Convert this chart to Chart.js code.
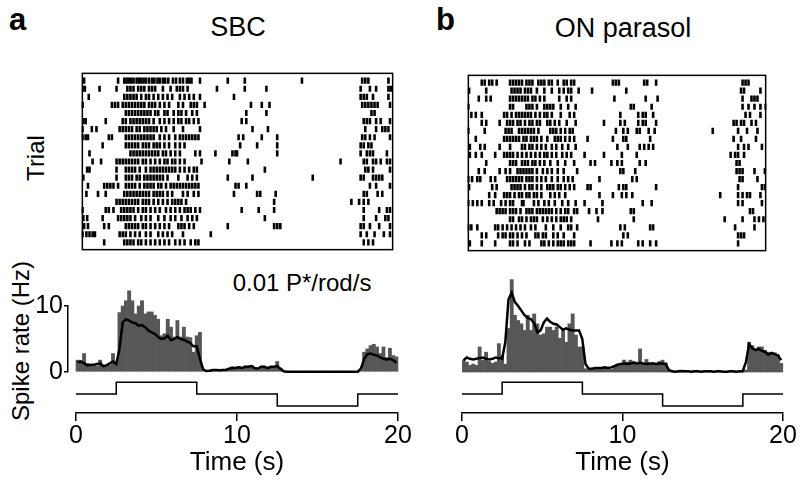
<!DOCTYPE html>
<html>
<head>
<meta charset="utf-8">
<script src="https://cdn.jsdelivr.net/npm/chart.js@4.4.1/dist/chart.umd.min.js"></script>
<style>
  body { margin: 0; background: #fff; }
  #fig { position: relative; width: 800px; height: 490px; overflow: hidden;
         font-family: "Liberation Sans", Arial, Helvetica, sans-serif; color: #000; }
  #fig canvas { position: absolute; }
  .t { position: absolute; white-space: nowrap; line-height: 1; font-size: 24px;
       transform: translate(-50%, -50%); }
  .big { font-size: 27px; }
  .rot { transform: translate(-50%, -50%) rotate(-90deg); }
  .lab { position: absolute; font-weight: bold; font-size: 31px; line-height: 1; }
</style>
</head>
<body>
<div id="fig">
  <div class="lab" style="left:9px;top:4px">a</div>
  <div class="lab" style="left:436px;top:4px">b</div>
  <div class="t big" style="left:238px;top:27px">SBC</div>
  <div class="t big" style="left:623px;top:28px">ON parasol</div>
  <div class="t rot" style="left:36px;top:158px">Trial</div>
  <div class="t rot" style="left:21px;top:341px">Spike rate (Hz)</div>
  <div class="t" style="left:302px;top:283px">0.01 P*/rod/s</div>
</div>
<script>
// ---- data ----
// spike times (s), one array per trial, top row first
const trialsSBC = [
  [0.1, 2.3, 2.7, 2.85, 3.0, 3.15, 3.3, 3.5, 3.65, 3.8, 3.95, 4.1, 4.3, 4.5, 4.65, 4.85, 5.0, 5.2, 5.35, 5.55, 5.85, 6.05, 6.3, 6.5, 6.75, 6.9, 7.05, 7.6, 9.4, 10.5, 14.2, 18.1, 18.3, 18.5, 19.8],
  [0.05, 0.15, 1.1, 2.2, 2.9, 3.1, 3.3, 3.6, 3.8, 4.0, 4.3, 4.5, 4.7, 5.2, 5.7, 6.1, 6.3, 6.5, 6.8, 8.7, 10.5, 11.9, 18.0, 18.6, 19.0, 19.8, 19.95],
  [0.4, 2.7, 2.9, 3.1, 3.3, 3.5, 3.8, 4.1, 4.3, 4.6, 4.9, 5.2, 5.5, 5.8, 6.3, 6.6, 6.9, 7.2, 7.6, 9.8, 18.0, 18.2, 18.4, 18.8, 19.8],
  [0.0, 1.9, 2.1, 2.3, 2.6, 2.8, 3.0, 3.2, 3.4, 3.6, 3.8, 4.0, 4.3, 4.5, 4.7, 5.0, 5.3, 5.6, 6.2, 6.5, 7.0, 7.2, 7.4, 7.9, 10.9, 11.6, 12.1, 18.1, 18.3, 18.5, 18.7, 18.9, 19.1, 19.9],
  [2.8, 3.0, 3.2, 3.4, 3.6, 3.8, 4.0, 4.2, 4.4, 4.7, 4.9, 5.3, 5.5, 5.9, 6.2, 6.4, 6.7, 7.1, 7.4, 10.6, 11.9, 18.7, 18.9],
  [0.05, 0.2, 1.5, 2.6, 2.8, 3.1, 3.3, 3.5, 3.7, 3.9, 4.1, 4.3, 4.6, 5.0, 5.3, 5.6, 5.9, 6.2, 6.4, 6.7, 6.9, 7.2, 7.5, 10.3, 10.6, 18.2, 18.4, 18.6, 19.0, 19.3, 19.9],
  [0.0, 0.6, 0.9, 2.4, 2.6, 2.8, 3.0, 3.2, 3.5, 3.7, 4.0, 4.2, 4.4, 4.6, 4.8, 5.1, 5.4, 5.9, 6.5, 7.6, 11.0, 12.0, 18.3, 19.0, 19.4, 19.6, 19.8],
  [0.0, 0.2, 0.35, 1.7, 1.9, 2.8, 3.0, 3.2, 3.4, 3.6, 3.8, 4.0, 4.2, 4.4, 4.6, 5.0, 5.3, 5.6, 6.0, 6.3, 6.5, 6.7, 6.9, 7.1, 7.3, 7.5, 10.1, 10.4, 11.6, 12.6, 18.1, 18.3, 18.6, 18.9, 19.9],
  [1.3, 2.8, 3.0, 3.2, 3.4, 3.6, 3.9, 4.1, 4.3, 4.6, 4.8, 5.0, 5.3, 5.6, 6.0, 6.3, 6.6, 10.2, 11.3, 12.6, 18.0, 18.2, 18.5, 18.7],
  [0.45, 3.1, 3.3, 3.5, 3.7, 3.9, 4.1, 4.3, 4.5, 4.7, 4.9, 5.2, 5.4, 5.7, 6.0, 6.3, 7.3, 7.6, 8.6, 9.7, 9.9, 10.0, 12.6, 18.0, 18.4, 18.6, 18.8, 19.7],
  [0.65, 1.2, 2.2, 2.4, 2.6, 2.8, 3.0, 3.2, 3.4, 3.6, 3.9, 4.1, 4.4, 4.7, 5.0, 5.3, 5.5, 5.8, 6.0, 6.3, 6.6, 7.7, 9.5, 10.7, 16.7, 18.2, 18.4, 18.8, 19.0, 19.3, 19.7, 19.9],
  [0.3, 0.45, 2.2, 2.8, 3.0, 3.2, 3.4, 3.7, 4.1, 4.4, 4.6, 4.8, 5.0, 5.2, 5.4, 5.6, 5.8, 6.0, 6.3, 6.6, 6.9, 7.2, 7.4, 11.8, 18.3, 18.5, 18.8, 19.9],
  [0.05, 2.2, 2.8, 3.0, 3.2, 3.5, 3.7, 4.0, 4.2, 4.4, 4.6, 4.8, 5.0, 5.2, 5.5, 6.2, 6.8, 7.1, 7.4, 9.4, 11.0, 14.9, 18.0, 18.2, 18.8, 19.0, 19.2, 19.4],
  [0.35, 1.4, 1.6, 1.8, 2.0, 2.3, 2.8, 3.0, 3.2, 3.4, 3.7, 4.0, 4.2, 4.4, 4.6, 4.9, 5.1, 5.4, 5.7, 5.9, 6.1, 6.3, 6.5, 6.7, 6.9, 7.1, 7.3, 7.5, 9.9, 10.1, 10.6, 18.6, 19.0, 19.9],
  [0.25, 1.0, 1.5, 2.7, 2.9, 3.1, 3.3, 3.5, 3.7, 3.9, 4.1, 4.3, 4.6, 4.8, 5.0, 5.2, 5.5, 5.8, 6.5, 6.8, 7.2, 7.5, 9.8, 11.3, 11.5, 12.5, 18.2, 18.4, 19.1, 19.4],
  [2.2, 2.4, 2.6, 2.8, 3.0, 3.2, 3.4, 3.6, 3.9, 4.1, 4.3, 4.6, 4.9, 5.2, 5.5, 5.8, 6.0, 6.2, 6.4, 6.7, 12.4, 17.4, 17.9, 18.2, 18.5],
  [0.0, 1.5, 1.7, 2.0, 2.5, 2.7, 2.9, 3.1, 3.3, 3.6, 3.9, 4.1, 4.4, 4.7, 5.0, 5.4, 5.7, 6.0, 6.3, 6.6, 6.8, 7.0, 7.3, 7.6, 10.3, 11.4, 12.4, 18.2, 19.2, 19.7, 19.9],
  [0.05, 0.3, 1.3, 2.3, 2.5, 2.7, 2.9, 3.1, 3.4, 3.8, 4.1, 4.4, 4.9, 5.3, 5.7, 6.0, 6.4, 6.8, 7.1, 7.4, 11.8, 18.2, 19.0, 19.6, 19.8],
  [0.1, 0.35, 1.4, 1.7, 2.8, 3.0, 3.2, 3.4, 3.6, 3.9, 4.1, 4.4, 4.7, 5.0, 5.3, 5.6, 6.2, 6.4, 6.6, 6.9, 7.2, 9.4, 12.4, 12.6, 12.8, 18.0, 18.2, 18.6, 19.2, 19.9],
  [0.0, 0.25, 0.45, 0.65, 0.8, 2.4, 2.6, 2.8, 3.1, 3.4, 3.7, 4.1, 4.4, 4.9, 5.2, 5.5, 5.8, 6.5, 8.3, 18.0, 18.4, 18.9, 19.5, 19.9],
  [1.4, 2.7, 2.9, 3.1, 3.3, 3.6, 3.8, 4.1, 4.4, 4.7, 5.0, 5.3, 5.6, 6.0, 6.3, 6.6, 7.0, 7.3, 7.5, 18.2, 18.5, 18.8]
];

const trialsParasol = [
  [0.9, 1.1, 1.4, 1.6, 1.9, 2.8, 3.0, 3.2, 3.4, 3.6, 3.9, 4.1, 4.3, 4.7, 4.9, 5.1, 5.4, 5.6, 6.0, 6.4, 6.6, 6.9, 7.1, 9.7, 9.9, 10.1, 11.8, 12.0, 12.6, 18.4, 18.6, 18.8],
  [0.05, 1.2, 2.9, 3.1, 3.3, 3.5, 3.8, 4.0, 4.2, 4.6, 5.1, 5.6, 6.1, 6.4, 6.7, 6.9, 7.4, 8.3, 10.6, 18.3, 18.5, 19.6],
  [0.7, 1.2, 1.5, 2.8, 3.0, 3.2, 3.4, 3.6, 3.8, 4.0, 4.3, 4.5, 4.8, 5.1, 6.1, 6.6, 6.9, 9.8, 11.9, 12.7, 18.4, 19.0, 19.2, 19.4],
  [0.0, 2.8, 3.0, 3.9, 4.1, 4.3, 4.6, 5.1, 5.3, 5.5, 5.7, 6.2, 6.7, 7.2, 10.9, 11.1, 12.3, 18.4, 18.8, 19.2, 19.6, 19.95],
  [0.2, 0.5, 0.9, 2.4, 2.6, 2.9, 3.2, 3.4, 3.6, 3.8, 4.0, 4.2, 4.5, 4.8, 5.1, 5.3, 5.6, 6.2, 6.8, 7.1, 10.2, 11.4, 11.7, 11.9, 12.4, 18.6, 18.9, 19.6],
  [0.9, 1.2, 2.1, 2.6, 2.8, 3.0, 3.3, 3.5, 3.8, 4.1, 4.3, 4.6, 4.8, 5.3, 5.5, 5.8, 6.1, 6.6, 7.2, 9.1, 10.2, 10.5, 11.4, 11.7, 11.9, 12.6, 17.8, 18.0, 18.3, 18.5, 19.0, 19.3],
  [0.0, 1.1, 2.5, 2.7, 2.9, 3.4, 3.6, 3.8, 4.0, 4.2, 4.4, 4.7, 5.5, 5.7, 5.9, 6.2, 6.5, 6.8, 7.0, 9.9, 10.4, 10.7, 11.3, 11.5, 12.1, 12.5, 16.4, 18.1, 18.7, 19.4],
  [0.5, 2.4, 2.6, 2.8, 3.0, 3.2, 3.4, 3.7, 3.9, 4.2, 4.4, 4.6, 4.9, 5.3, 5.8, 6.0, 6.2, 6.5, 6.8, 7.1, 8.0, 9.7, 10.4, 10.6, 12.2, 17.8, 18.3, 19.3],
  [0.1, 0.8, 1.1, 2.1, 2.8, 3.6, 3.8, 4.1, 4.3, 4.6, 4.9, 5.2, 5.6, 5.9, 6.3, 6.7, 7.2, 10.0, 10.7, 11.5, 11.8, 12.1, 12.4, 18.1, 18.5, 18.8, 19.7],
  [0.1, 0.5, 0.9, 1.8, 2.4, 2.6, 2.8, 3.0, 3.3, 3.6, 3.9, 4.2, 4.5, 4.8, 5.1, 5.3, 5.6, 5.9, 6.3, 6.6, 6.9, 7.8, 9.1, 10.3, 11.3, 17.6, 17.9, 18.1, 18.5],
  [1.2, 2.8, 3.0, 3.2, 3.6, 3.8, 4.0, 4.3, 4.5, 4.8, 5.1, 5.5, 6.0, 6.5, 7.1, 8.2, 8.5, 9.6, 10.0, 10.3, 11.5, 11.9, 18.0, 18.2],
  [0.7, 1.1, 2.1, 2.5, 2.8, 3.3, 3.5, 3.7, 3.9, 4.1, 4.3, 4.6, 5.0, 5.3, 5.6, 6.0, 6.4, 7.3, 10.2, 10.4, 11.2, 18.0, 18.2, 18.4, 19.2, 19.9],
  [0.0, 0.25, 0.6, 0.8, 1.5, 1.8, 2.6, 2.8, 3.0, 3.2, 3.4, 3.6, 3.9, 4.1, 4.3, 4.6, 4.9, 5.2, 5.6, 6.0, 6.4, 6.7, 7.0, 8.8, 11.0, 11.3, 18.2, 18.4, 19.4],
  [0.05, 1.6, 1.9, 2.9, 3.1, 3.3, 3.5, 3.8, 4.1, 4.3, 4.6, 4.9, 5.3, 5.5, 5.7, 6.0, 6.2, 6.5, 6.8, 7.1, 8.0, 8.2, 10.1, 10.4, 10.6, 12.6, 18.1, 19.7, 19.9],
  [1.4, 1.8, 2.4, 2.6, 2.8, 3.1, 3.4, 3.6, 3.9, 4.1, 4.4, 4.6, 4.9, 5.5, 5.8, 6.1, 6.5, 8.8, 9.7, 10.3, 10.6, 11.0, 16.9, 18.1, 18.4, 18.7, 18.9, 19.6],
  [0.0, 0.3, 0.6, 0.9, 1.4, 1.7, 2.2, 2.5, 2.8, 3.0, 3.6, 3.7, 4.4, 4.7, 5.1, 5.4, 5.8, 6.3, 6.7, 7.2, 7.8, 9.0, 11.7, 12.3, 18.1, 18.4, 19.7],
  [1.9, 2.1, 2.3, 2.5, 2.8, 3.0, 3.2, 3.5, 3.9, 4.1, 4.3, 4.6, 4.8, 5.0, 5.2, 5.4, 5.6, 5.9, 6.2, 6.5, 6.7, 7.1, 7.3, 8.1, 8.6, 9.0, 10.9, 11.1, 18.9, 19.1],
  [2.8, 3.0, 3.4, 3.6, 3.9, 4.2, 4.4, 4.6, 5.0, 5.3, 5.6, 5.9, 6.2, 6.4, 6.6, 6.9, 8.7, 11.1, 17.2, 18.4, 19.2, 19.5, 19.8],
  [0.0, 0.2, 0.6, 1.8, 2.0, 2.3, 2.6, 2.9, 3.2, 3.5, 3.8, 4.2, 4.5, 5.2, 5.7, 6.2, 6.7, 6.9, 7.3, 10.2, 10.5, 12.2, 12.4, 17.9, 19.2],
  [0.9, 1.2, 2.0, 2.3, 2.5, 2.8, 3.0, 3.3, 3.6, 3.9, 4.5, 4.7, 5.0, 5.2, 5.7, 6.0, 6.4, 7.1, 10.4, 10.7, 18.1, 18.3, 18.5],
  [0.1, 0.9, 1.8, 2.8, 3.0, 3.3, 3.8, 4.1, 4.9, 5.1, 5.4, 5.7, 6.0, 6.2, 6.4, 6.7, 6.9, 7.1, 8.2, 9.6, 10.0, 10.3, 11.4, 11.7, 12.2, 12.6, 18.1]
];

// PSTH, 0.2 s bins from 0 to 20 s (Hz)
const binWidth = 0.2;
const rateSBC = [
  1.8, 1.6, 2.8, 1.3, 1.0, 1.1, 0.9, 1.8, 1.0, 0.8, 1.0, 2.8, 1.4,
  9.0, 10.0, 10.8, 12.3, 10.8, 8.8, 10.0, 10.8, 8.8, 9.1, 9.1, 8.6, 8.0, 5.5, 5.8, 8.0, 6.8, 5.3, 7.8, 5.3, 6.8, 5.3, 5.2, 3.0, 5.5, 6.0, 0.3,
  0.2, 0.3, 0.3, 0.3, 0.2, 0.3, 0.3, 0.5, 0.8, 0.6, 0.8, 0.5, 0.9, 0.6, 1.0, 0.7, 0.3, 0.8, 0.9, 0.6, 0.8, 0.7, 1.6, 0.6, 0.1,
  0, 0, 0.05, 0, 0, 0, 0.05, 0, 0, 0, 0, 0.05, 0, 0, 0, 0, 0.05, 0, 0, 0, 0, 0, 0, 0.2,
  3.0, 3.5, 4.0, 4.2, 3.8, 2.8, 3.8, 2.2, 3.6, 2.5, 2.3
];
const smoothSBC = [
  1.5, 1.6, 1.3, 1.0, 1.1, 1.1, 1.2, 1.3, 0.9, 1.0, 1.3, 1.6, 1.2,
  3.5, 7.5, 8.0, 7.8, 7.5, 7.4, 7.0, 7.1, 6.8, 6.3, 6.0, 5.8, 5.3, 5.0, 5.1, 5.5, 4.8, 5.0, 5.3, 5.0, 4.9, 4.6,
  4.4, 3.9, 3.9, 2.0, 0.4, 0.15, 0.2, 0.3, 0.3, 0.25, 0.3, 0.3, 0.5, 0.6, 0.6, 0.7, 0.6, 0.8, 0.8, 0.9,
  0.6, 0.5, 0.8, 0.8, 0.6, 0.8, 0.8, 0.9, 0.5, 0.1,
  0.05, 0.05, 0.05, 0.05, 0.05, 0.05, 0.05, 0.05, 0.05, 0.05, 0.05, 0.05, 0.05, 0.05, 0.05, 0.05, 0.05, 0.05, 0.05, 0.05, 0.05, 0.05, 0.05,
  0.5, 2.0, 2.7, 2.8, 2.6, 2.5, 2.2, 2.0, 1.9, 2.0, 1.8, 1.4
];
const rateParasol = [
  1.8, 1.5, 1.0, 1.2, 1.0, 3.8, 1.8, 3.0, 1.6, 1.3, 1.5, 4.3, 2.5, 1.2,
  6.6, 14.0, 8.6, 7.8, 7.3, 6.3, 8.6, 6.3, 8.8, 7.3, 5.6, 5.8, 6.8, 6.8, 6.3, 6.8, 5.1, 6.3, 4.5, 7.3, 8.8, 5.6, 3.8, 3.8, 0.5, 0.3,
  0.4, 0.5, 0.6, 0.5, 0.6, 0.7, 0.4, 0.8, 1.2, 1.0, 1.8, 1.5, 1.8, 1.6, 1.4, 3.5, 1.3, 1.9, 1.2, 1.4, 1.2, 1.6, 1.8, 1.4, 0.3,
  0, 0.05, 0, 0, 0.05, 0, 0, 0, 0.05, 0, 0, 0, 0, 0.05, 0, 0, 0, 0, 0.05, 0, 0, 0, 0, 0.3,
  4.5, 4.0, 3.5, 3.8, 3.8, 3.3, 3.0, 2.8, 2.9, 2.6, 1.3
];
const smoothParasol = [
  1.8, 2.2, 2.0, 1.9, 2.0, 2.1, 2.2, 2.0, 1.9, 2.0, 2.2, 2.1, 2.0,
  4.5, 11.0, 12.0, 10.6, 10.0, 9.3, 8.6, 8.2, 8.0, 7.4, 6.0, 6.3, 7.5, 8.1, 7.6, 7.3, 7.2, 6.8, 6.4, 6.6, 6.4, 6.3,
  6.3, 6.3, 5.0, 1.2, 0.5, 0.5, 0.6, 0.6, 0.6, 0.7, 0.6, 0.7, 0.9, 1.1, 1.2, 1.3, 1.2, 1.3, 1.4, 1.3,
  1.4, 1.3, 1.2, 1.3, 1.3, 1.2, 1.3, 1.3, 1.2, 0.3,
  0.1, 0.05, 0.1, 0.15, 0.1, 0.1, 0.05, 0.1, 0.1, 0.05, 0.1, 0.1, 0.1, 0.05, 0.1, 0.1, 0.05, 0.05, 0.1, 0.1, 0.05, 0.1, 0.1,
  1.5, 4.2, 3.6, 3.3, 3.5, 3.2, 3.0, 2.6, 2.9, 2.7, 2.5, 1.8
];

// light stimulus: level changes (relative units)
const stimTimes = [0, 2.5, 7.5, 12.5, 17.5, 20];
const stimLevels = [0, 1, 0, -1, 0, 0];
const timeTicks = [0, 10, 20];
const rateTicks = [0, 10];

// ---- drawing ----
const FONT = '"Liberation Sans", Arial, Helvetica, sans-serif';
Chart.defaults.font.family = FONT;
Chart.defaults.color = '#000';
const fig = document.getElementById('fig');

function addCanvas(left, top, width, height) {
  const c = document.createElement('canvas');
  c.width = width;
  c.height = height;
  c.style.left = left + 'px';
  c.style.top = top + 'px';
  c.style.width = width + 'px';
  c.style.height = height + 'px';
  fig.appendChild(c);
  return c;
}

const baseOptions = {
  responsive: false,
  animation: false,
  events: [],
  plugins: { legend: { display: false }, tooltip: { enabled: false } }
};

// box around raster
const frame = {
  id: 'frame',
  afterDraw(chart) {
    const a = chart.chartArea, ctx = chart.ctx;
    ctx.save();
    ctx.strokeStyle = '#000';
    ctx.lineWidth = 1.5;
    ctx.strokeRect(a.left + 0.75, a.top + 0.75, a.right - a.left - 1.5, a.bottom - a.top - 1.5);
    ctx.restore();
  }
};

function raster(canvas, trials, xmin, xmax) {
  const pts = [];
  trials.forEach((spikes, i) => spikes.forEach(t => pts.push({ x: t, y: i + 1 })));
  return new Chart(canvas, {
    type: 'scatter',
    data: {
      datasets: [{
        data: pts,
        pointStyle: 'line',
        pointRotation: 90,
        rotation: 90,
        pointRadius: 3.1,
        borderWidth: 2.6,
        pointBorderWidth: 2.6,
        pointBorderColor: '#000',
        borderColor: '#000',
        backgroundColor: '#000'
      }]
    },
    options: {
      ...baseOptions,
      layout: { padding: 0 },
      elements: { point: { borderWidth: 2.6, radius: 3.1, rotation: 90, pointStyle: 'line' } },
      scales: {
        x: { type: 'linear', display: false, min: xmin, max: xmax },
        y: { display: false, min: 0, max: 22, reverse: true }
      }
    },
    plugins: [frame]
  });
}

function psth(canvas, rates, smooth, xmin, xmax, padding, withAxis) {
  const center = i => binWidth * (i + 0.5);
  const yScale = {
    display: withAxis,
    min: 0,
    max: 10,
    afterBuildTicks: s => { s.ticks = rateTicks.map(v => ({ value: v })); },
    ticks: { color: '#000', font: { size: 25 }, padding: 1 },
    grid: { drawOnChartArea: false, drawTicks: true, tickLength: 4, color: '#000', lineWidth: 1.5 },
    border: { display: true, color: '#000', width: 1.5 }
  };
  if (withAxis) yScale.afterFit = s => { s.width = 52; };
  return new Chart(canvas, {
    type: 'bar',
    data: {
      datasets: [
        {
          type: 'line',
          data: smooth.map((v, i) => ({ x: center(i), y: v })),
          borderColor: '#000',
          borderWidth: 2.5,
          pointRadius: 0,
          clip: false,
          order: 0
        },
        {
          type: 'bar',
          data: rates.map((v, i) => ({ x: center(i), y: v })),
          backgroundColor: '#575757',
          barPercentage: 1,
          categoryPercentage: 1,
          clip: false,
          order: 1
        }
      ]
    },
    options: {
      ...baseOptions,
      layout: { padding },
      scales: {
        x: { type: 'linear', display: false, min: xmin, max: xmax, offset: false },
        y: yScale
      }
    }
  });
}

function stimulus(canvas) {
  return new Chart(canvas, {
    type: 'line',
    data: {
      datasets: [{
        data: stimTimes.map((t, i) => ({ x: t, y: stimLevels[i] })),
        stepped: 'before',
        borderColor: '#000',
        borderWidth: 1.5,
        pointRadius: 0
      }]
    },
    options: {
      ...baseOptions,
      layout: { padding: { left: 20, right: 20, top: 2, bottom: 0 } },
      scales: {
        x: {
          type: 'linear',
          min: 0,
          max: 20,
          afterFit: s => { s.height = 65; },
          afterBuildTicks: s => { s.ticks = timeTicks.map(v => ({ value: v })); },
          ticks: { color: '#000', font: { size: 25 }, padding: 0, maxRotation: 0 },
          grid: { drawOnChartArea: false, drawTicks: true, tickLength: 8, color: '#000', lineWidth: 1.5 },
          border: { display: true, color: '#000', width: 1.5 },
          title: { display: true, text: 'Time (s)', color: '#000', font: { size: 26 }, padding: 0 }
        },
        y: { display: false, min: -1.6, max: 1.6 }
      }
    }
  });
}

// panel a (SBC): time 0 at x=76, 20 s at x=398
raster(addCanvas(75, 66, 325, 191), trialsSBC, -0.062, 20.12);
psth(addCanvas(16, 276, 389, 112), rateSBC, smoothSBC, -0.497, 20.19,
     { left: 0, right: 4, top: 30, bottom: 16 }, true);
stimulus(addCanvas(56, 373, 362, 105));

// panel b (ON parasol): time 0 at x=462, 20 s at x=783
raster(addCanvas(461, 68, 312, 190), trialsParasol, -0.05, 20.0);
psth(addCanvas(462, 276, 328, 100), rateParasol, smoothParasol, 0, 20.2,
     { left: 0, right: 4, top: 30, bottom: 4 }, false);
stimulus(addCanvas(442, 373, 361, 105));
</script>
</body>
</html>
